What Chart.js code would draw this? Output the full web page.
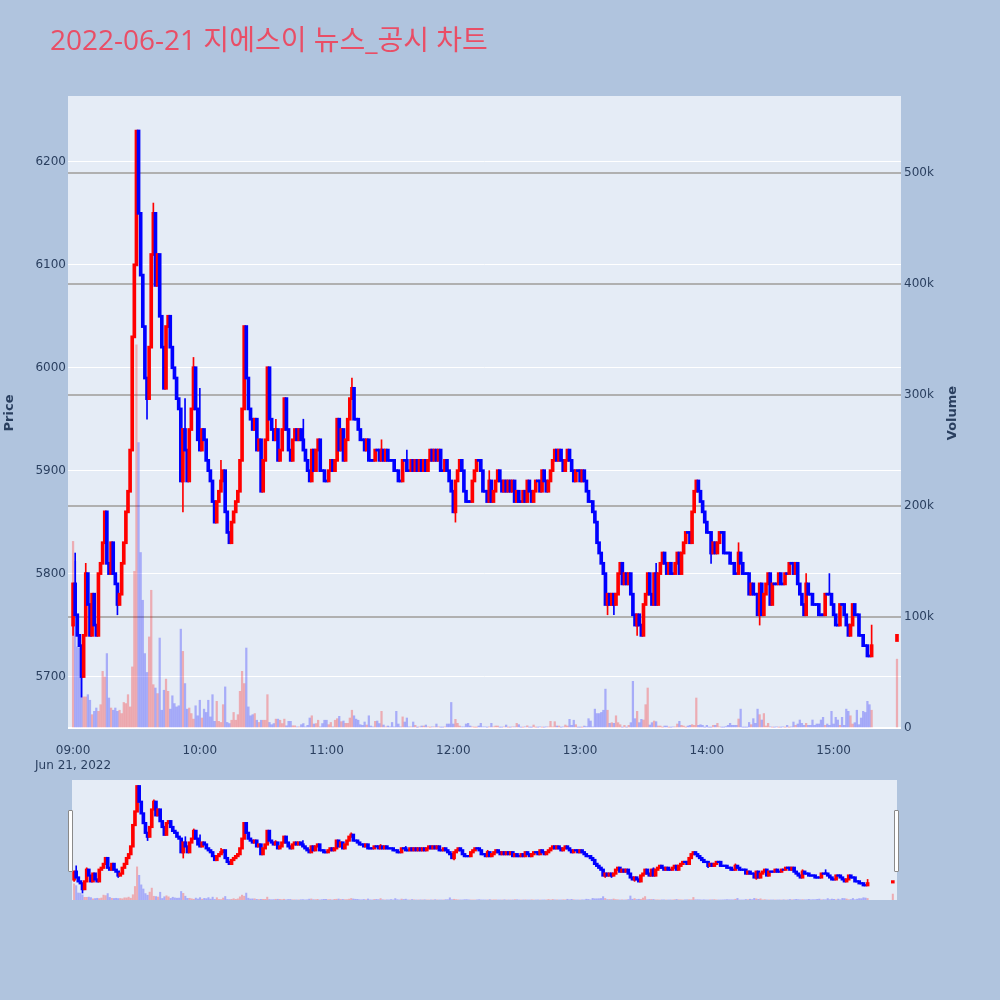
<!DOCTYPE html>
<html lang="ko">
<head>
  <meta charset="UTF-8">
  <title>2022-06-21 지에스이 뉴스_공시 차트</title>
  <script src="https://cdn.jsdelivr.net/npm/chart.js"></script>
  <style>
    html, body { margin: 0; padding: 0; background: #b0c4de; }
    body { width: 1000px; height: 1000px; position: relative; overflow: hidden; }
    #mainChart { position: absolute; left: 0; top: 0; }
    #sliderChart { position: absolute; left: 72px; top: 780px; background: #e5ecf6; }
    .handle { position: absolute; top: 810px; width: 3px; height: 60px; background: #fff; border: 1px solid #8a8a8a; border-radius: 1px; }
  </style>
</head>
<body>
  <canvas id="mainChart" width="1000" height="780"></canvas>
  <canvas id="sliderChart" width="825" height="120"></canvas>
  <div class="handle" style="left:68px"></div>
  <div class="handle" style="left:894px"></div>

  <script>
    // minutes after 09:00, one candle per minute (open = previous close)
    const firstOpen = 5750;
    const closes = [
      5790, 5760, 5740, 5730, 5700, 5740, 5800, 5770, 5740, 5780,
      5750, 5740, 5800, 5810, 5830, 5860, 5810, 5800, 5830, 5800,
      5790, 5770, 5780, 5810, 5830, 5860, 5880, 5920, 6030, 6100,
      6230, 6150, 6090, 6040, 5990, 5970, 6020, 6110, 6150, 6080,
      6110, 6050, 6020, 5980, 6040, 6050, 6020, 6000, 5990, 5970,
      5960, 5890, 5940, 5920, 5890, 5940, 5960, 6000, 5960, 5930,
      5920, 5940, 5930, 5910, 5900, 5890, 5870, 5850, 5870, 5880,
      5890, 5900, 5860, 5840, 5830, 5850, 5860, 5870, 5880, 5910,
      5960, 6040, 5990, 5960, 5950, 5940, 5950, 5920, 5930, 5880,
      5910, 5930, 6000, 5950, 5940, 5930, 5940, 5910, 5920, 5940,
      5970, 5940, 5920, 5910, 5930, 5940, 5930, 5940, 5930, 5920,
      5910, 5900, 5890, 5920, 5900, 5920, 5930, 5900, 5900, 5890,
      5890, 5900, 5910, 5900, 5910, 5950, 5920, 5940, 5910, 5930,
      5950, 5970, 5980, 5950, 5950, 5940, 5930, 5930, 5920, 5930,
      5910, 5910, 5910, 5920, 5920, 5910, 5920, 5910, 5920, 5910,
      5910, 5910, 5900, 5900, 5890, 5890, 5910, 5910, 5900, 5900,
      5910, 5900, 5910, 5900, 5910, 5900, 5910, 5900, 5910, 5920,
      5910, 5920, 5910, 5920, 5900, 5900, 5910, 5900, 5890, 5880,
      5860, 5890, 5900, 5910, 5900, 5880, 5870, 5870, 5870, 5890,
      5900, 5910, 5910, 5900, 5880, 5880, 5870, 5890, 5870, 5880,
      5890, 5900, 5890, 5880, 5890, 5880, 5890, 5880, 5890, 5870,
      5880, 5870, 5870, 5880, 5870, 5890, 5880, 5870, 5880, 5890,
      5890, 5880, 5900, 5890, 5880, 5890, 5900, 5910, 5920, 5910,
      5920, 5910, 5900, 5910, 5920, 5910, 5900, 5890, 5900, 5900,
      5890, 5900, 5890, 5880, 5870, 5870, 5860, 5850, 5830, 5820,
      5810, 5800, 5770, 5780, 5770, 5780, 5770, 5780, 5800, 5810,
      5790, 5800, 5790, 5800, 5780, 5760, 5750, 5760, 5750, 5740,
      5770, 5780, 5800, 5780, 5770, 5800, 5770, 5800, 5810, 5820,
      5810, 5800, 5810, 5800, 5800, 5810, 5820, 5800, 5820, 5830,
      5840, 5840, 5830, 5860, 5880, 5890, 5880, 5870, 5860, 5850,
      5840, 5840, 5820, 5830, 5820, 5830, 5840, 5840, 5820, 5820,
      5820, 5810, 5810, 5800, 5800, 5820, 5810, 5800, 5800, 5800,
      5780, 5790, 5780, 5780, 5760, 5790, 5760, 5780, 5790, 5800,
      5770, 5790, 5790, 5790, 5800, 5790, 5790, 5800, 5800, 5810,
      5810, 5800, 5810, 5790, 5780, 5770, 5760, 5790, 5780, 5780,
      5770, 5770, 5770, 5760, 5760, 5760, 5780, 5780, 5780, 5770,
      5760, 5750, 5750, 5770, 5770, 5760, 5750, 5740, 5750, 5770,
      5760, 5760, 5740, 5740, 5730, 5730, 5720, 5720, 5730
    ];
    // volume per minute, thousands of shares
    const volumes = [
      168, 150, 73, 72, 54, 28, 28, 30, 25, 12,
      15, 18, 15, 21, 51, 46, 67, 27, 18, 16,
      18, 15, 16, 13, 23, 22, 30, 19, 55, 141,
      345, 257, 158, 115, 67, 50, 82, 124, 39, 36,
      31, 81, 16, 34, 44, 33, 17, 29, 22, 19,
      20, 89, 69, 40, 17, 18, 13, 8, 20, 11,
      25, 9, 17, 14, 25, 10, 30, 6, 24, 6,
      5, 21, 37, 5, 4, 7, 14, 7, 12, 33,
      51, 40, 72, 19, 11, 12, 13, 7, 5, 7,
      7, 7, 30, 5, 3, 4, 8, 8, 7, 4,
      8, 2, 6, 6, 2, 2, 1, 1, 3, 4,
      1, 2.4, 9, 11, 3.6, 4, 7, 1, 4, 7,
      7, 3, 5, 1, 7, 8.4, 10.5, 5.7, 6.3, 4.2,
      4.2, 9, 16, 11, 8, 7, 3, 2.4, 5.4, 2.7,
      11, 1.8, 1, 6, 6.3, 4, 15, 2.7, 1, 1.8,
      1, 5, 1, 15, 3.6, 1, 10, 5.4, 9, 1,
      1, 5.4, 2.4, 0.5, 1, 1.8, 1.8, 2.7, 1, 0.6,
      1, 1, 3.6, 1, 0.6, 0.6, 1, 3.6, 3.6, 23,
      3.6, 7.8, 4.2, 1.8, 1, 1, 3.6, 4.2, 1.8, 1,
      0.6, 0.6, 1.8, 4.2, 1, 1, 0.6, 1, 4.2, 1,
      1.8, 1.8, 0.6, 0.6, 1, 2.7, 0.6, 0.6, 1, 1,
      4.2, 3, 0.6, 0.6, 1, 2, 0.6, 0.5, 2.7, 0.6,
      0.6, 1, 0.6, 0.6, 1, 1, 6, 1, 5.7, 1.8,
      1.8, 0.6, 1, 2.7, 1.8, 7.8, 2.4, 7, 3, 0.6,
      0.6, 0.6, 1.8, 1.2, 8.4, 6.3, 1, 17, 13, 13,
      14, 16, 35, 16, 4.2, 4.8, 4.2, 11, 4.8, 3,
      0.6, 2.4, 0.6, 2.4, 4.8, 42, 8.4, 15, 4.8, 7.8,
      7.2, 21, 36, 2.7, 4.8, 6.3, 5.7, 1.8, 1.8, 0.6,
      1.8, 1.8, 0.6, 0.6, 1, 1, 3.6, 6, 2.4, 1.8,
      0.6, 1.8, 2.4, 3, 2.4, 27, 2.4, 3, 2.4, 0.6,
      2.4, 0.6, 0.6, 2.4, 2.4, 4.2, 1, 0.6, 0.6, 1.2,
      2.4, 4.2, 2.4, 2.4, 2.4, 8.1, 17, 0.6, 0.6, 0.6,
      5, 3, 8.4, 4.2, 17, 12, 7.2, 13, 1.8, 4.2,
      1, 0.6, 0.6, 1, 0.6, 0.6, 1, 0.6, 2.4, 0.6,
      1, 5.4, 2.4, 3.6, 7.2, 4.2, 2.4, 4.2, 2.4, 2.4,
      7.2, 2.4, 3.6, 3.6, 7.2, 9.6, 2.4, 3.6, 2.4, 15,
      3.6, 9.6, 7.2, 2.4, 9.6, 2.4, 17, 15, 11, 3.6,
      4.8, 16, 3, 9, 15, 14, 24, 21, 16
    ];
    // [minute, high, low] where the wick reaches past the body
    const wicks = [
      [0, null, 5740], [1, 5820, null], [4, null, 5680], [6, 5810, null], [21, null, 5760],
      [31, 6230, null], [35, null, 5950], [38, 6160, null],
      [52, null, 5860], [53, 5970, null], [57, 6010, null], [60, 5980, null], [70, 5910, null],
      [82, 6030, null], [96, 5950, null], [109, 5950, null], [132, 5990, null], [146, 5930, null],
      [158, 5920, null], [181, null, 5850], [197, 5900, null], [253, null, 5760], [256, null, 5760],
      [267, null, 5740], [276, 5810, null], [302, null, 5810], [315, 5830, null], [325, null, 5750],
      [347, 5800, null], [358, 5800, null], [365, 5770, null], [378, 5750, null]
    ];
    // closing auction at 15:30
    const auction = { minute: 390, open: 5735, close: 5740, volume: 62 };

    const priceTicks = [5700, 5800, 5900, 6000, 6100, 6200];
    const volumeTicks = [0, 100, 200, 300, 400, 500];
    const timeTicks = [0, 60, 120, 180, 240, 300, 360];
    const timeLabels = ['09:00', '10:00', '11:00', '12:00', '13:00', '14:00', '15:00'];
    const dateLabel = 'Jun 21, 2022';
    const titleText = '2022-06-21 지에스이 뉴스_공시 차트';

    const RED = '#ff0000', BLUE = '#0000ff';
    const RED_VOL = 'rgba(255, 0, 0, 0.27)', BLUE_VOL = 'rgba(0, 0, 255, 0.27)';
    const TEXT = '#2a3f5f';
    const FONT = "'DejaVu Sans', Verdana, sans-serif";

    function buildRows() {
      const rows = closes.map((c, i) => {
        const o = i === 0 ? firstOpen : closes[i - 1];
        return { x: i, o: o, c: c, h: Math.max(o, c), l: Math.min(o, c), v: volumes[i] };
      });
      const a = auction;
      rows.push({ x: a.minute, o: a.open, c: a.close, h: Math.max(a.open, a.close), l: Math.min(a.open, a.close), v: a.volume });
      wicks.forEach(([m, h, l]) => {
        const r = rows[m];
        if (h !== null) r.h = Math.max(r.h, h);
        if (l !== null) r.l = Math.min(r.l, l);
      });
      return rows;
    }
    const rows = buildRows();
    const isUp = r => r.c > r.o;

    function candleSets(bodyPad, bodyWidth, volWidth) {
      return [
        {
          label: 'body', yAxisID: 'y', order: 1, grouped: false, barThickness: bodyWidth,
          data: rows.map(r => ({ x: r.x, y: [Math.min(r.o, r.c) - bodyPad, Math.max(r.o, r.c) + bodyPad] })),
          backgroundColor: rows.map(r => isUp(r) ? RED : BLUE)
        },
        {
          label: 'wick', yAxisID: 'y', order: 2, grouped: false, barThickness: 1,
          data: rows.map(r => ({ x: r.x, y: [r.l, r.h] })),
          backgroundColor: rows.map(r => isUp(r) ? RED : BLUE)
        },
        {
          label: 'volume', yAxisID: 'yv', order: 3, grouped: false, barThickness: volWidth,
          data: rows.map(r => ({ x: r.x, y: r.v })),
          backgroundColor: rows.map(r => isUp(r) ? RED_VOL : BLUE_VOL)
        }
      ];
    }

    const plotBg = {
      id: 'plotBg',
      beforeDraw(chart) {
        const { ctx, chartArea: a } = chart;
        ctx.save();
        ctx.fillStyle = '#e5ecf6';
        ctx.fillRect(a.left, a.top, a.width, a.height);
        ctx.restore();
      }
    };

    const texts = {
      id: 'texts',
      afterDraw(chart) {
        const ctx = chart.ctx;
        ctx.save();
        ctx.fillStyle = '#e94e66';
        ctx.font = "28px 'Open Sans', 'Noto Sans CJK KR', sans-serif";
        ctx.textBaseline = 'alphabetic';
        ctx.textAlign = 'left';
        ctx.fillText(titleText, 50, 50);

        ctx.fillStyle = TEXT;
        ctx.font = 'bold 13px ' + FONT;
        ctx.textAlign = 'center';
        ctx.textBaseline = 'middle';
        [['Price', 10], ['Volume', 953]].forEach(([t, x]) => {
          ctx.save();
          ctx.translate(x, 413);
          ctx.rotate(-Math.PI / 2);
          ctx.fillText(t, 0, 0);
          ctx.restore();
        });
        ctx.restore();
      }
    };

    Chart.defaults.font.family = FONT;
    Chart.defaults.font.size = 12;
    Chart.defaults.color = TEXT;

    new Chart(document.getElementById('mainChart'), {
      type: 'bar',
      data: { datasets: candleSets(1, 3, 1.6) },
      options: {
        responsive: false,
        animation: false,
        layout: { padding: { top: 96, left: 0, right: 0, bottom: 0 } },
        plugins: { legend: { display: false }, tooltip: { enabled: false } },
        scales: {
          x: {
            type: 'linear', min: -2.4, max: 391.9, offset: false,
            grid: { display: false }, border: { display: false },
            afterBuildTicks: s => { s.ticks = timeTicks.map(v => ({ value: v })); },
            afterFit: s => { s.height = 52; },
            ticks: {
              maxRotation: 0, autoSkip: false, padding: 8,
              callback: v => {
                const label = timeLabels[timeTicks.indexOf(v)];
                return v === 0 ? [label, dateLabel] : label;
              }
            }
          },
          y: {
            position: 'left', min: 5650, max: 6264,
            grid: { color: '#ffffff', lineWidth: 1, drawTicks: false },
            border: { display: false },
            afterBuildTicks: s => { s.ticks = priceTicks.map(v => ({ value: v })); },
            afterFit: s => { s.width = 68; },
            ticks: { padding: 2, callback: v => String(v) }
          },
          yv: {
            position: 'right', min: 0, max: 569,
            grid: {
              drawTicks: false,
              color: c => c.tick && c.tick.value === 0 ? '#ffffff' : '#b0b0b0',
              lineWidth: 2
            },
            border: { display: false },
            afterBuildTicks: s => { s.ticks = volumeTicks.map(v => ({ value: v })); },
            afterFit: s => { s.width = 99; },
            ticks: { padding: 3, callback: v => v === 0 ? '0' : v + 'k' }
          }
        }
      },
      plugins: [plotBg, texts]
    });

    new Chart(document.getElementById('sliderChart'), {
      type: 'bar',
      data: { datasets: candleSets(4, 3, 1.4) },
      options: {
        responsive: false,
        animation: false,
        layout: { padding: 0 },
        plugins: { legend: { display: false }, tooltip: { enabled: false } },
        scales: {
          x: { type: 'linear', min: -1, max: 392, offset: false, display: false },
          y: { min: 5644, max: 6262, display: false },
          yv: { min: 0, max: 1250, display: false }
        }
      }
    });
  </script>
</body>
</html>
